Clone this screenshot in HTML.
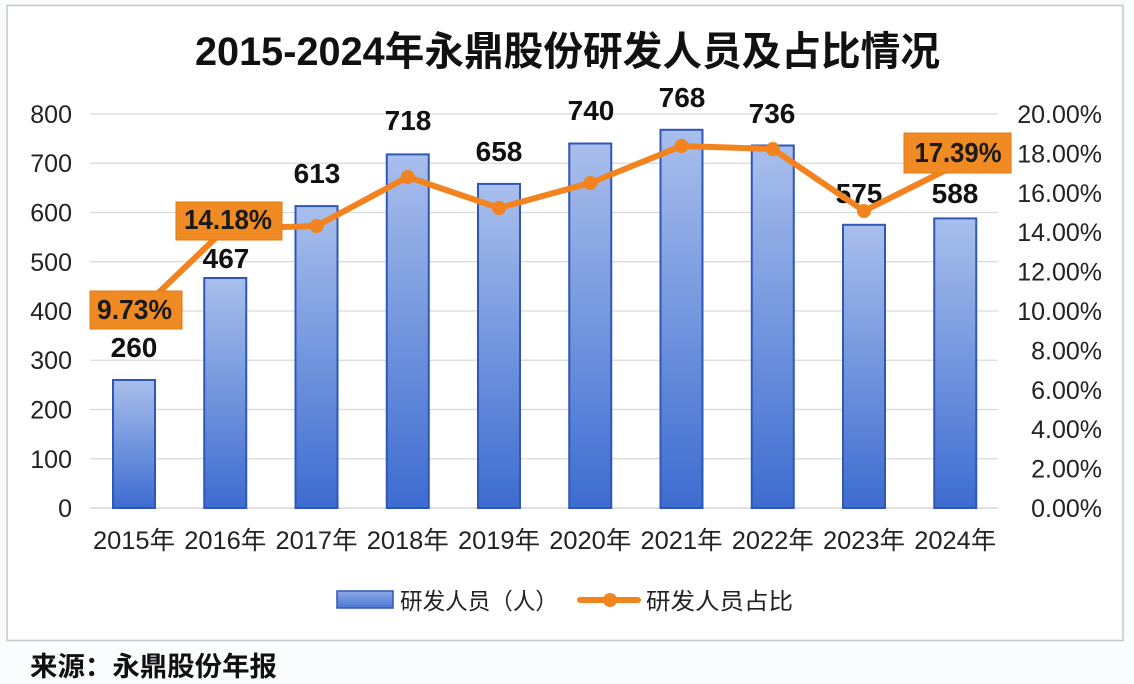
<!DOCTYPE html>
<html>
<head>
<meta charset="utf-8">
<style>
html,body{margin:0;padding:0;background:#fbfcfe;}
svg{display:block;}
text{font-family:"Liberation Sans","Noto Sans CJK SC",sans-serif;}
</style>
</head>
<body>
<svg width="1134" height="684" viewBox="0 0 1134 684" xmlns="http://www.w3.org/2000/svg">
<defs>
<linearGradient id="bg" x1="0" y1="0" x2="0" y2="1">
<stop offset="0" stop-color="#a9bfec"/>
<stop offset="1" stop-color="#3d6cd0"/>
</linearGradient>
<linearGradient id="lg" x1="0" y1="0" x2="0" y2="1">
<stop offset="0" stop-color="#8eaae6"/>
<stop offset="1" stop-color="#4a76d2"/>
</linearGradient>
</defs>
<rect x="0" y="0" width="1134" height="684" fill="#fbfcfe"/>
<rect x="7" y="5.5" width="1116" height="635" fill="#ffffff" stroke="#c9c9cc" stroke-width="1.6"/>

<!-- title -->
<text x="195" y="65" font-size="40" font-weight="bold" fill="#111" textLength="745" lengthAdjust="spacingAndGlyphs">2015-2024年永鼎股份研发人员及占比情况</text>

<!-- gridlines -->
<g stroke="#d9d9d9" stroke-width="1.2">
<line x1="90" y1="114" x2="998" y2="114"/>
<line x1="90" y1="163.25" x2="998" y2="163.25"/>
<line x1="90" y1="212.5" x2="998" y2="212.5"/>
<line x1="90" y1="261.75" x2="998" y2="261.75"/>
<line x1="90" y1="311" x2="998" y2="311"/>
<line x1="90" y1="360.25" x2="998" y2="360.25"/>
<line x1="90" y1="409.5" x2="998" y2="409.5"/>
<line x1="90" y1="458.75" x2="998" y2="458.75"/>
<line x1="90" y1="508" x2="998" y2="508" stroke="#cfcfcf"/>
</g>

<!-- left axis labels -->
<g font-size="25" fill="#222" text-anchor="end">
<text x="72" y="123">800</text>
<text x="72" y="172">700</text>
<text x="72" y="221.5">600</text>
<text x="72" y="271">500</text>
<text x="72" y="320">400</text>
<text x="72" y="369">300</text>
<text x="72" y="418.5">200</text>
<text x="72" y="468">100</text>
<text x="72" y="517">0</text>
</g>

<!-- right axis labels -->
<g font-size="25" fill="#222" text-anchor="end">
<text x="1102" y="123">20.00%</text>
<text x="1102" y="162.4">18.00%</text>
<text x="1102" y="201.8">16.00%</text>
<text x="1102" y="241.2">14.00%</text>
<text x="1102" y="280.6">12.00%</text>
<text x="1102" y="320">10.00%</text>
<text x="1102" y="359.4">8.00%</text>
<text x="1102" y="398.8">6.00%</text>
<text x="1102" y="438.2">4.00%</text>
<text x="1102" y="477.6">2.00%</text>
<text x="1102" y="517">0.00%</text>
</g>

<!-- bars -->
<g fill="url(#bg)" stroke="#2f57b8" stroke-width="2">
<rect x="113" y="380" width="42" height="128"/>
<rect x="204.25" y="278" width="42" height="230"/>
<rect x="295.5" y="206.1" width="42" height="301.9"/>
<rect x="386.75" y="154.4" width="42" height="353.6"/>
<rect x="478" y="183.9" width="42" height="324.1"/>
<rect x="569.25" y="143.5" width="42" height="364.5"/>
<rect x="660.5" y="129.8" width="42" height="378.2"/>
<rect x="751.75" y="145.5" width="42" height="362.5"/>
<rect x="843" y="224.8" width="42" height="283.2"/>
<rect x="934.25" y="218.4" width="42" height="289.6"/>
</g>

<!-- x labels -->
<g font-size="25" fill="#222" text-anchor="middle">
<text x="134" y="549" textLength="82" lengthAdjust="spacingAndGlyphs">2015年</text>
<text x="225.25" y="549" textLength="82" lengthAdjust="spacingAndGlyphs">2016年</text>
<text x="316.5" y="549" textLength="82" lengthAdjust="spacingAndGlyphs">2017年</text>
<text x="407.75" y="549" textLength="82" lengthAdjust="spacingAndGlyphs">2018年</text>
<text x="499" y="549" textLength="82" lengthAdjust="spacingAndGlyphs">2019年</text>
<text x="590.25" y="549" textLength="82" lengthAdjust="spacingAndGlyphs">2020年</text>
<text x="681.5" y="549" textLength="82" lengthAdjust="spacingAndGlyphs">2021年</text>
<text x="772.75" y="549" textLength="82" lengthAdjust="spacingAndGlyphs">2022年</text>
<text x="864" y="549" textLength="82" lengthAdjust="spacingAndGlyphs">2023年</text>
<text x="955.25" y="549" textLength="82" lengthAdjust="spacingAndGlyphs">2024年</text>
</g>

<!-- bar value labels -->
<g font-size="28" font-weight="bold" fill="#111" text-anchor="middle">
<text x="134" y="357">260</text>
<text x="226" y="268">467</text>
<text x="317" y="183">613</text>
<text x="408" y="130">718</text>
<text x="499" y="161">658</text>
<text x="591" y="120">740</text>
<text x="682" y="107">768</text>
<text x="772" y="123">736</text>
<text x="859" y="203">575</text>
<text x="955" y="203">588</text>
</g>

<!-- line -->
<polyline fill="none" stroke="#f2831f" stroke-width="6" stroke-linejoin="round" points="134,316.3 225.25,228.7 316.5,226 407.75,177 499,208 590.25,183 681.5,146 772.75,149 864,211 955.25,165.4"/>
<g fill="#f2831f">
<circle cx="316.5" cy="226" r="7"/>
<circle cx="407.75" cy="177" r="7"/>
<circle cx="499" cy="208" r="7"/>
<circle cx="590.25" cy="183" r="7"/>
<circle cx="681.5" cy="146" r="7"/>
<circle cx="772.75" cy="149" r="7"/>
<circle cx="864" cy="211" r="7"/>
</g>

<!-- percent label boxes -->
<g fill="#f08a22" stroke="#e07a14" stroke-width="1">
<rect x="90" y="291" width="92" height="38"/>
<rect x="176" y="202" width="106" height="38"/>
<rect x="904" y="133" width="107" height="40"/>
</g>
<g font-size="28" font-weight="bold" fill="#1a1a1a" text-anchor="middle">
<text x="134.5" y="319" textLength="75" lengthAdjust="spacingAndGlyphs">9.73%</text>
<text x="228" y="229" textLength="88" lengthAdjust="spacingAndGlyphs">14.18%</text>
<text x="958" y="162" textLength="87" lengthAdjust="spacingAndGlyphs">17.39%</text>
</g>

<!-- legend -->
<rect x="337" y="591" width="56" height="17" fill="url(#lg)" stroke="#2f57b8" stroke-width="1.5"/>
<text x="400" y="609" font-size="23" fill="#222" textLength="158" lengthAdjust="spacingAndGlyphs">研发人员（人）</text>
<line x1="580" y1="600" x2="638" y2="600" stroke="#f2831f" stroke-width="6" stroke-linecap="round"/>
<circle cx="610" cy="600" r="7" fill="#f2831f"/>
<text x="646" y="609" font-size="23" fill="#222" textLength="147" lengthAdjust="spacingAndGlyphs">研发人员占比</text>

<!-- source -->
<text x="30" y="676" font-size="27" font-weight="bold" fill="#111" textLength="247" lengthAdjust="spacingAndGlyphs">来源：永鼎股份年报</text>
</svg>
</body>
</html>
